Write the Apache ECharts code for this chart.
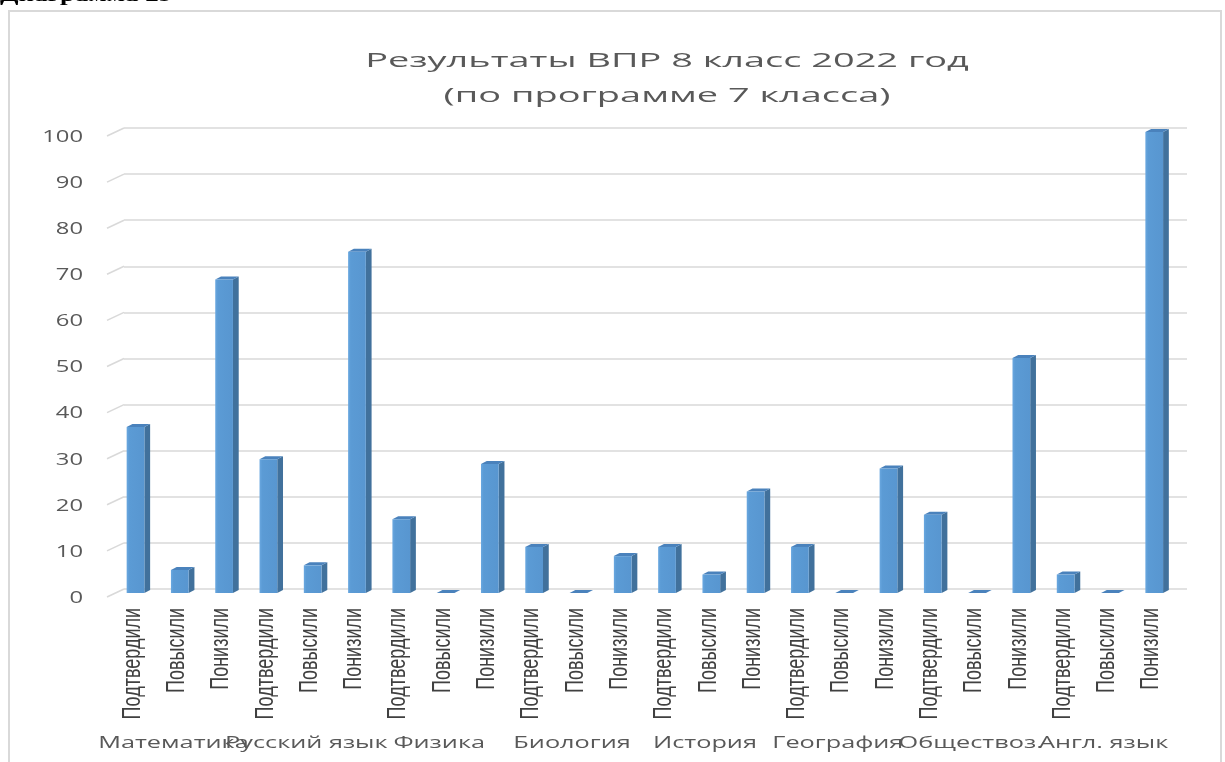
<!DOCTYPE html>
<html>
<head>
<meta charset="utf-8">
<script src="https://cdn.jsdelivr.net/npm/echarts@6/dist/echarts.min.js"></script>
<style>
html,body{margin:0;padding:0;background:#fff;}
#chart{width:1225px;height:762px;}
</style>
</head>
<body>
<div id="chart"></div>
<script>
// ---- data ----
const categories = [
  'Подтвердили','Повысили','Понизили',
  'Подтвердили','Повысили','Понизили',
  'Подтвердили','Повысили','Понизили',
  'Подтвердили','Повысили','Понизили',
  'Подтвердили','Повысили','Понизили',
  'Подтвердили','Повысили','Понизили',
  'Подтвердили','Повысили','Понизили',
  'Подтвердили','Повысили','Понизили'
];
const subjects = ['Математика','Русский язык','Физика','Биология','История','География','Обществоз.','Англ. язык'];
const values = [36,5,68, 29,6,74, 16,0,28, 10,0,8, 10,4,22, 10,0,27, 17,0,51, 4,0,100];
const yTicks = [0,10,20,30,40,50,60,70,80,90,100];
const titleLines = ['Результаты ВПР 8 класс 2022 год','(по программе 7 класса)'];
const captionText = 'Диаграмма 29';

const chart = echarts.init(document.getElementById('chart'));

function renderBar(params, api) {
  const idx = api.value(0), v = api.value(1);
  const top = api.coord([idx, v]);
  const base = api.coord([idx, 0]);
  const band = api.size([1, 0])[0];
  const w = band * 0.4;
  const l = top[0] - band * 0.44;
  const r = l + w;
  const fy = 4;
  const yt = top[1] + fy, yb = base[1] + fy;
  const dx = band * 0.13, dy = 3;
  return {
    type: 'group',
    children: [
      { type: 'polygon', shape: { points: [[r, yt], [r + dx, yt - dy], [r + dx, yb - dy], [r, yb]] },
        style: { fill: '#41719C' } },
      { type: 'polygon', shape: { points: [[l, yt], [l + dx, yt - dy], [r + dx, yt - dy], [r, yt]] },
        style: { fill: '#4A82BC' } },
      { type: 'rect', shape: { x: l, y: yt, width: w, height: yb - yt },
        style: { fill: { type: 'linear', x: 0, y: 0, x2: 1, y2: 0,
          colorStops: [{ offset: 0, color: '#6AA8E0' }, { offset: 0.15, color: '#5B9BD5' }, { offset: 1, color: '#5896D0' }] } } }
    ]
  };
}

function renderCatLabel(params, api) {
  const i = api.value(0);
  const p = api.coord([i, 0]);
  const band = api.size([1, 0])[0];
  return {
    type: 'text', x: p[0] - band * 0.3, y: p[1] + 19, rotation: Math.PI / 2, scaleX: 0.72,
    style: { text: categories[i], fill: '#404040', font: '25px "Liberation Sans"', align: 'right', verticalAlign: 'middle' }
  };
}

function renderYLabel(params, api) {
  const v = api.value(1);
  const p = api.coord([0, v]);
  const cs = params.coordSys;
  return {
    type: 'group',
    children: [
      { type: 'line', shape: { x1: cs.x - 17, y1: p[1] + 8, x2: cs.x, y2: p[1] },
        style: { stroke: '#D9D9D9', lineWidth: 1.5 } },
      { type: 'text', x: cs.x - 41, y: p[1] + 9, scaleX: 1.4,
        style: { text: String(v), fill: '#595959', font: '17px "Open Sans"', align: 'right', verticalAlign: 'middle' } }
    ]
  };
}

function renderGroupLabel(params, api) {
  const i = api.value(0);
  const p = api.coord([i, 0]);
  const cs = params.coordSys;
  return {
    type: 'text', x: p[0] - 17, y: cs.y + cs.height + 154, scaleX: 1.58,
    style: { text: subjects[i], fill: '#595959', font: '16px "Open Sans"', align: 'center', verticalAlign: 'middle' }
  };
}

const option = {
  animation: false,
  backgroundColor: '#fff',
  graphic: [
    { type: 'rect', shape: { x: 9, y: 11, width: 1212, height: 800 },
      style: { fill: 'none', stroke: '#D9D9D9', lineWidth: 2 }, silent: true },
    { type: 'text', x: 0, y: 5, scaleX: 1.5,
      style: { text: captionText, font: 'bold 18px "Liberation Serif"', fill: '#000', align: 'left', verticalAlign: 'bottom' } },
    { type: 'text', x: 667, y: 61, scaleX: 1.85,
      style: { text: titleLines[0], font: '20.5px "Open Sans"', fill: '#595959', align: 'center', verticalAlign: 'middle' } },
    { type: 'text', x: 667, y: 96, scaleX: 1.85,
      style: { text: titleLines[1], font: '20.5px "Open Sans"', fill: '#595959', align: 'center', verticalAlign: 'middle' } }
  ],
  grid: { left: 124, right: 38, top: 128, bottom: 173 },
  xAxis: [
    { type: 'category', data: categories,
      axisLine: { show: false }, axisTick: { show: false }, axisLabel: { show: false } },
    { type: 'category', data: subjects, show: false }
  ],
  yAxis: {
    type: 'value', min: 0, max: 100, interval: 10,
    axisLine: { show: false }, axisTick: { show: false }, axisLabel: { show: false },
    splitLine: { lineStyle: { color: '#D9D9D9', width: 1.5 } }
  },
  series: [
    { type: 'custom', name: 'bars', xAxisIndex: 0, renderItem: renderBar, clip: false,
      data: values.map((v, i) => [i, v]), z: 3 },
    { type: 'custom', name: 'catlabels', xAxisIndex: 0, renderItem: renderCatLabel, clip: false, silent: true,
      data: categories.map((c, i) => [i, 0]), z: 2 },
    { type: 'custom', name: 'ylabels', xAxisIndex: 0, renderItem: renderYLabel, clip: false, silent: true,
      data: yTicks.map(v => [0, v]), z: 2 },
    { type: 'custom', name: 'groups', xAxisIndex: 1, renderItem: renderGroupLabel, clip: false, silent: true,
      data: subjects.map((s, i) => [i, 0]), z: 2 }
  ]
};
chart.setOption(option);
</script>
</body>
</html>
